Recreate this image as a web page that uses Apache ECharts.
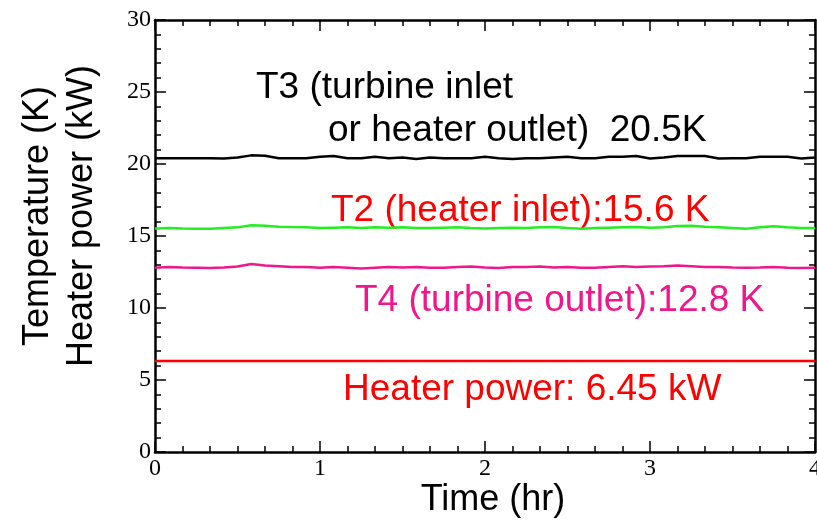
<!DOCTYPE html>
<html style="height: 100%">
<head>
<meta charset="utf-8" />
<title>Temperatures and heater power</title>
<script src="https://cdn.jsdelivr.net/npm/echarts@6/dist/echarts.min.js"></script>
</head>
<body style="height: 100%; margin: 0; background: #fff">
<div id="container" style="width: 817px; height: 521px"></div>
<script type="text/javascript">
// samples every 5 min over 4 hours
var stepHr = 1 / 12;

var t3 = [20.4, 20.4, 20.4, 20.4, 20.4, 20.38, 20.45, 20.6, 20.58, 20.4,
          20.4, 20.4, 20.5, 20.55, 20.4, 20.4, 20.5, 20.4, 20.45, 20.35,
          20.45, 20.4, 20.4, 20.4, 20.5, 20.4, 20.35, 20.4, 20.4, 20.45,
          20.5, 20.4, 20.4, 20.5, 20.5, 20.55, 20.38, 20.45, 20.55, 20.55,
          20.55, 20.38, 20.4, 20.4, 20.5, 20.5, 20.5, 20.38, 20.45];

var t2 = [15.52, 15.55, 15.52, 15.5, 15.5, 15.55, 15.6, 15.75, 15.72, 15.65,
          15.62, 15.6, 15.55, 15.58, 15.6, 15.55, 15.6, 15.57, 15.6, 15.55,
          15.55, 15.58, 15.6, 15.55, 15.52, 15.55, 15.58, 15.55, 15.6, 15.62,
          15.55, 15.5, 15.55, 15.58, 15.6, 15.62, 15.58, 15.6, 15.7, 15.72,
          15.65, 15.6, 15.55, 15.5, 15.6, 15.68, 15.6, 15.55, 15.55];

var t4 = [12.8, 12.85, 12.82, 12.8, 12.78, 12.82, 12.88, 13.05, 12.95, 12.9,
          12.85, 12.85, 12.8, 12.85, 12.8, 12.75, 12.8, 12.85, 12.82, 12.85,
          12.8, 12.8, 12.85, 12.88, 12.82, 12.78, 12.85, 12.85, 12.88, 12.82,
          12.85, 12.8, 12.8, 12.85, 12.9, 12.85, 12.88, 12.9, 12.95, 12.9,
          12.85, 12.85, 12.82, 12.8, 12.82, 12.85, 12.8, 12.78, 12.8];

var heaterPower = 6.32;

function pairs(vals) {
    var out = [];
    for (var i = 0; i < vals.length; i++) {
        out.push([i * stepHr, vals[i]]);
    }
    return out;
}
var heater = [[0, heaterPower], [4, heaterPower]];

var sans = 'Liberation Sans, Arial, sans-serif';
var serif = 'Liberation Serif, Times New Roman, serif';
var pink = '#f0168c';

var axisLine = { show: true, onZero: false, lineStyle: { color: '#000', width: 2.5 } };
var tick = { inside: true, length: 11, lineStyle: { color: '#000', width: 1.5 } };
var minor = { show: true, length: 6, lineStyle: { color: '#000', width: 1.5 } };

var dom = document.getElementById('container');
var myChart = echarts.init(dom);
var option = {
    animation: false,
    backgroundColor: '#fff',
    grid: { left: 155, right: 2, top: 20, bottom: 69, outerBoundsMode: 'none', containLabel: false },
    xAxis: [{
        type: 'value', min: 0, max: 4, interval: 1, position: 'bottom',
        axisLine: axisLine, axisTick: tick,
        minorTick: Object.assign({ splitNumber: 6 }, minor),
        splitLine: { show: false },
        axisLabel: { color: '#000', fontFamily: serif, fontSize: 24, margin: 5 }
    }, {
        type: 'value', min: 0, max: 4, interval: 1, position: 'top',
        axisLine: axisLine, axisTick: tick,
        minorTick: Object.assign({ splitNumber: 6 }, minor),
        splitLine: { show: false }, axisLabel: { show: false }
    }],
    yAxis: [{
        type: 'value', min: 0, max: 30, interval: 5, position: 'left',
        axisLine: axisLine, axisTick: tick,
        minorTick: Object.assign({ splitNumber: 5 }, minor),
        splitLine: { show: false },
        axisLabel: { color: '#000', fontFamily: serif, fontSize: 24, margin: 4 }
    }, {
        type: 'value', min: 0, max: 30, interval: 5, position: 'right',
        axisLine: axisLine, axisTick: tick,
        minorTick: Object.assign({ splitNumber: 5 }, minor),
        splitLine: { show: false }, axisLabel: { show: false }
    }],
    series: [
        { name: 'T3', type: 'line', data: pairs(t3), showSymbol: false,
          lineStyle: { color: '#000', width: 2.5 } },
        { name: 'T2', type: 'line', data: pairs(t2), showSymbol: false,
          lineStyle: { color: '#22ee22', width: 2.5 } },
        { name: 'T4', type: 'line', data: pairs(t4), showSymbol: false,
          lineStyle: { color: pink, width: 2.5 } },
        { name: 'Heater', type: 'line', data: heater, showSymbol: false,
          lineStyle: { color: '#ff0000', width: 2.5 } }
    ],
    graphic: [
        { type: 'text', left: 256, top: 69, style: { text: 'T3 (turbine inlet', fill: '#000', font: '37px ' + sans } },
        { type: 'text', left: 328, top: 112, style: { text: 'or heater outlet)  20.5K', fill: '#000', font: '37px ' + sans } },
        { type: 'text', left: 331, top: 192, style: { text: 'T2 (heater inlet):15.6 K', fill: '#ff0000', font: '37px ' + sans } },
        { type: 'text', left: 355, top: 282, style: { text: 'T4 (turbine outlet):12.8 K', fill: pink, font: '37px ' + sans } },
        { type: 'text', left: 343, top: 371, style: { text: 'Heater power: 6.45 kW', fill: '#ff0000', font: '37px ' + sans } },
        { type: 'text', x: 493, y: 500, style: { text: 'Time (hr)', fill: '#000', font: '36px ' + sans, align: 'center', verticalAlign: 'middle' } },
        { type: 'text', x: 60, y: 216, rotation: Math.PI / 2,
          style: { text: 'Temperature (K)\nHeater power (kW)', fill: '#000', font: '36px ' + sans,
                   align: 'center', verticalAlign: 'middle', lineHeight: 44 } }
    ]
};
myChart.setOption(option);
</script>
</body>
</html>
